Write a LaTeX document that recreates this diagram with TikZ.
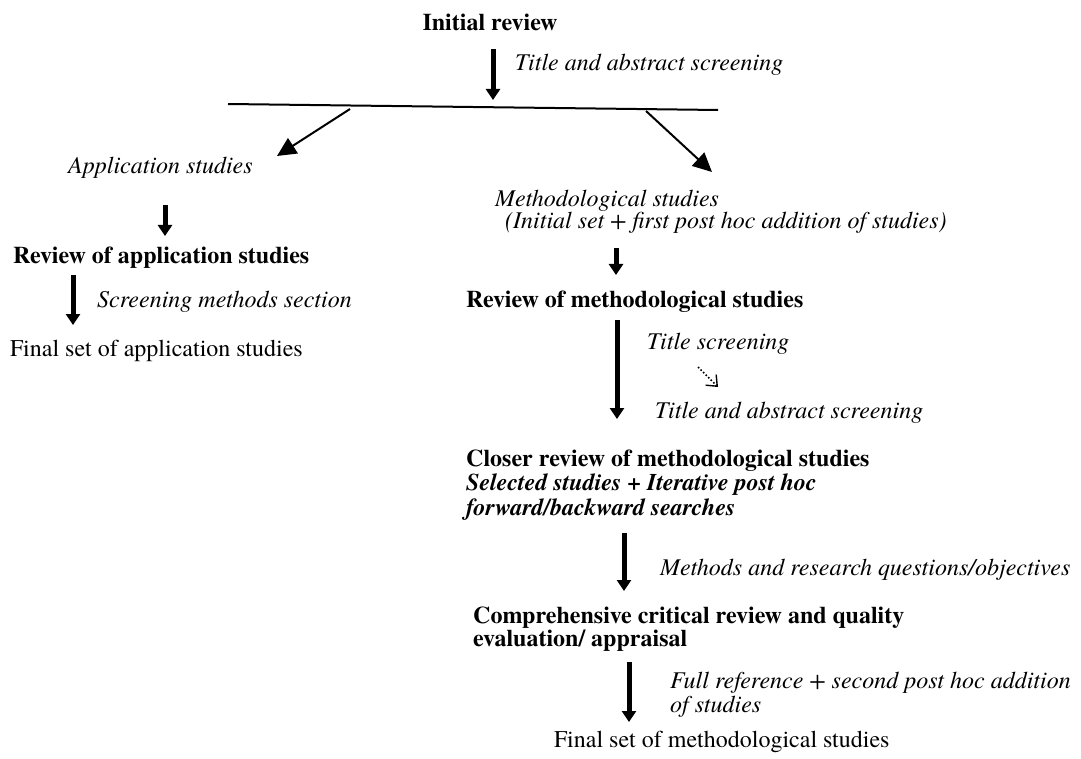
\documentclass[tikz,border=0pt]{standalone}
\usepackage{fontspec}
\setmainfont{texgyretermes}[
  Extension=.otf,
  UprightFont=*-regular,
  BoldFont=*-bold,
  ItalicFont=*-italic,
  BoldItalicFont=*-bolditalic]
\usetikzlibrary{arrows.meta}
\begin{document}
\begin{tikzpicture}[x=1pt,y=-1pt,
  txt/.style={anchor=west,inner sep=0pt,font=\fontsize{24}{24}\selectfont},
  hd/.style={txt,font=\fontsize{24}{24}\selectfont\bfseries},
  lbl/.style={txt,font=\fontsize{24}{24}\selectfont\itshape},
  bigarrow/.style={line width=5pt,-{Triangle[width=14pt,length=11pt]}},
  thinarrow/.style={line width=2pt,-{Triangle[width=18pt,length=19pt]}},
  hintarrow/.style={dotted,line width=1.6pt,-{Straight Barb[length=9pt,width=15pt,line width=1.4pt]}}]
\useasboundingbox (0,0) rectangle (1081,759);

% top of the review
\node[hd,anchor=center] (init) at (490,22) {Initial review};
\node[lbl] (tas) at (515,65) {Title and abstract screening};
\coordinate (a0s) at (493,49);
\coordinate (a0e) at (493,100);
\draw[bigarrow] (a0s) -- (a0e);

% split bar and branches
\coordinate (barL) at (228,104);
\coordinate (barR) at (718,110);
\draw[line width=2pt] (barL) -- (barR);
\coordinate (brL) at (350,109);
\coordinate (tipL) at (277,156);
\coordinate (brR) at (646,111);
\coordinate (tipR) at (712,172);
\draw[thinarrow] (brL) -- (tipL);
\draw[thinarrow] (brR) -- (tipR);

% application branch
\node[lbl] (app) at (68,168) {Application studies};
\coordinate (a1s) at (165,205);
\coordinate (a1e) at (165,236);
\draw[bigarrow] (a1s) -- (a1e);
\node[hd] (revapp) at (13,258) {Review of application studies};
\coordinate (a2s) at (73,275);
\coordinate (a2e) at (73,325);
\draw[bigarrow] (a2s) -- (a2e);
\node[lbl] (sms) at (97,302) {Screening methods section};
\node[txt] (finapp) at (10,351) {Final set of application studies};

% methodological branch
\node[lbl] (meth) at (495,201) {Methodological studies};
\begin{scope}
  \clip (0,0) rectangle (1081,233);
  \node[lbl] (initset) at (505,223) {(Initial set + first post hoc addition of studies)};
\end{scope}
\coordinate (a3s) at (616,248);
\coordinate (a3e) at (616,275);
\draw[bigarrow] (a3s) -- (a3e);
\node[hd] (revmeth) at (466,302) {Review of methodological studies};
\coordinate (a4s) at (617,320);
\coordinate (a4e) at (617,419);
\draw[bigarrow] (a4s) -- (a4e);
\node[lbl] (ts) at (647,344) {Title screening};
\coordinate (h1) at (698,367);
\coordinate (h2) at (718,387);
\draw[hintarrow] (h1) -- (h2);
\node[lbl] (tas2) at (655,413) {Title and abstract screening};

\node[hd,align=left,font=\fontsize{24}{24.5}\selectfont\bfseries] (closer) at (466,485)
  {Closer review of methodological studies\\
   \textit{Selected studies + Iterative post hoc}\\
   \textit{forward/backward searches}};
\coordinate (a5s) at (624,533);
\coordinate (a5e) at (624,591);
\draw[bigarrow] (a5s) -- (a5e);
\node[lbl] (mrq) at (660,570) {Methods and research questions/objectives};

\node[hd,align=left,font=\fontsize{24}{22.5}\selectfont\bfseries] (comp) at (473,629)
  {Comprehensive critical review and quality\\evaluation/ appraisal};
\coordinate (a6s) at (629,662);
\coordinate (a6e) at (629,722);
\draw[bigarrow] (a6s) -- (a6e);
\node[lbl,align=left,font=\fontsize{24}{24}\selectfont\itshape] (fullref) at (670,695)
  {Full reference + second post hoc addition\\of studies};
\node[txt] (finmeth) at (554,742) {Final set of methodological studies};
\end{tikzpicture}
\end{document}
